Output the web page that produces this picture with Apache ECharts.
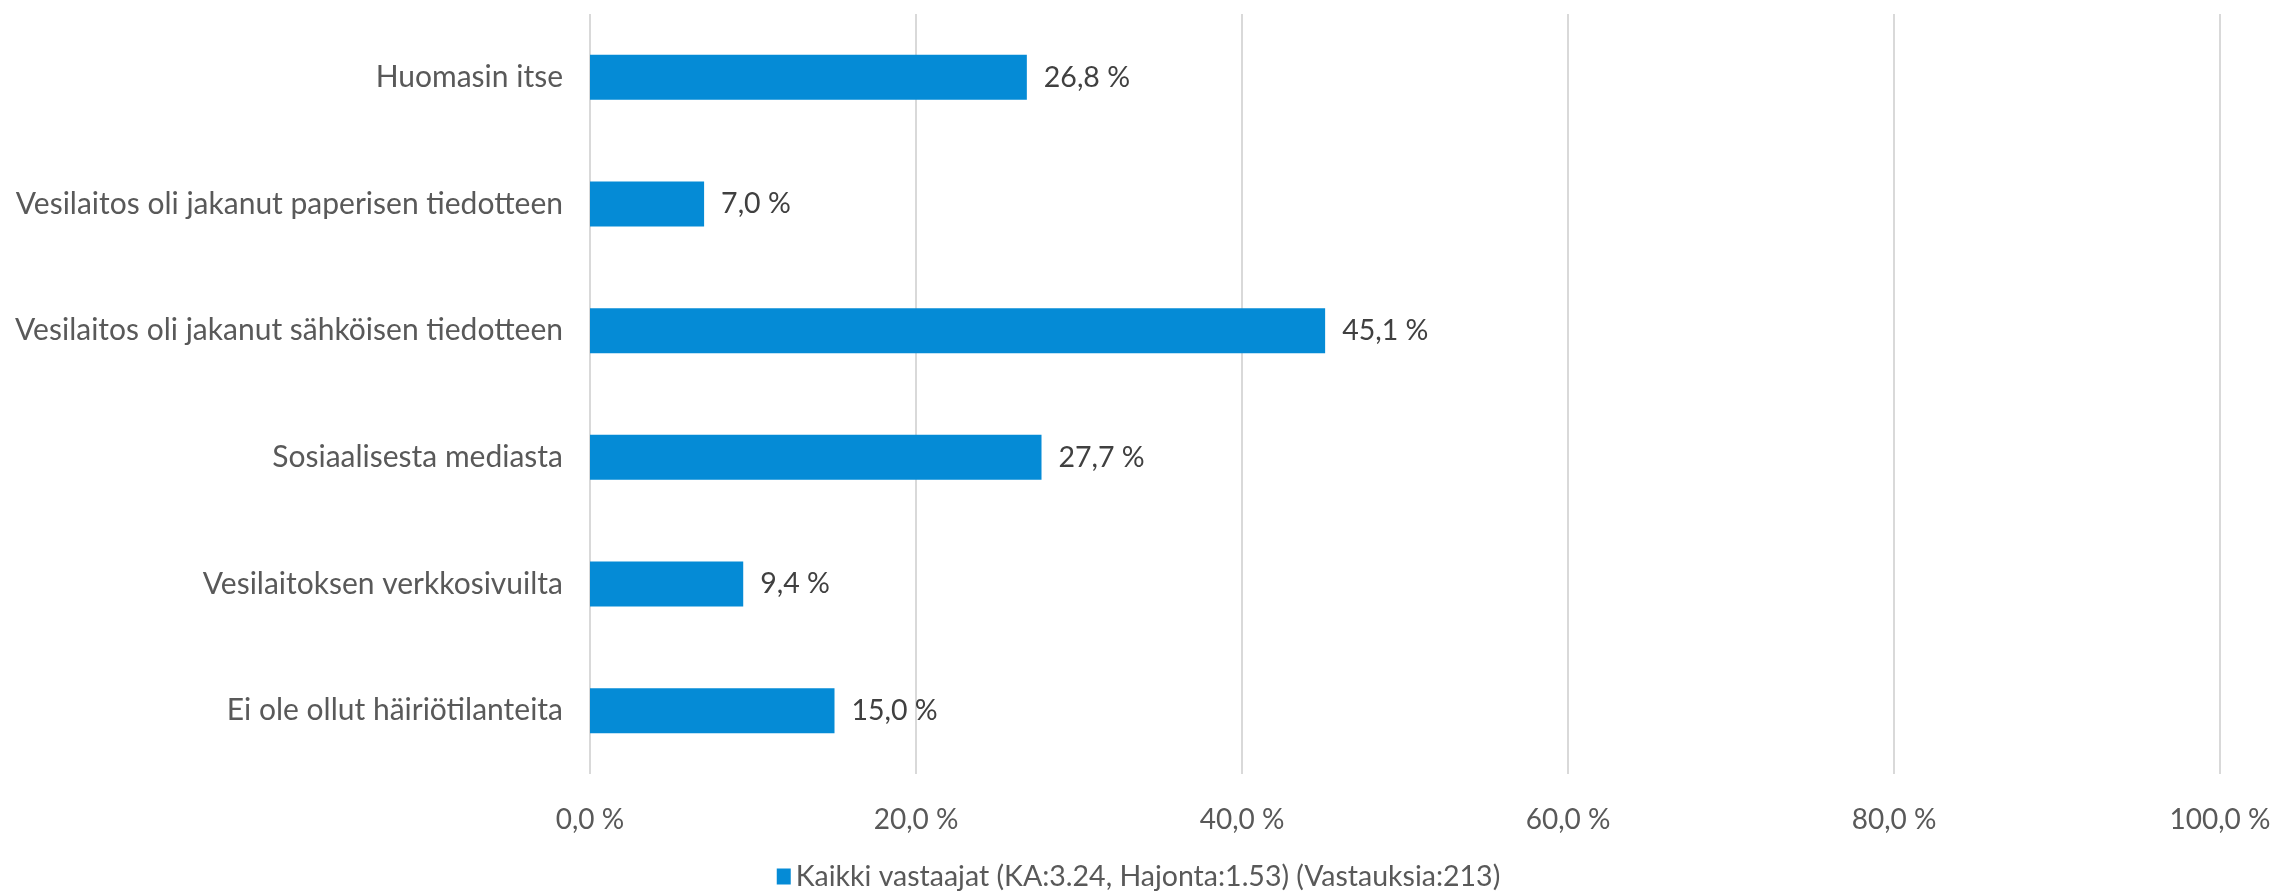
<!DOCTYPE html>
<html>
<head>
<meta charset="utf-8">
<script src="https://cdn.jsdelivr.net/npm/echarts@6/dist/echarts.min.js"></script>
<style>
  html, body { margin: 0; padding: 0; background: #ffffff; }
  #chart { width: 2277px; height: 893px; }
</style>
</head>
<body>
<div id="chart"></div>
<script>
// Answer categories, listed top to bottom
const categories = [
  'Huomasin itse',
  'Vesilaitos oli jakanut paperisen tiedotteen',
  'Vesilaitos oli jakanut sähköisen tiedotteen',
  'Sosiaalisesta mediasta',
  'Vesilaitoksen verkkosivuilta',
  'Ei ole ollut häiriötilanteita'
];
// Share of respondents, percent
const values = [26.8, 7.0, 45.1, 27.7, 9.4, 15.0];
const seriesName = 'Kaikki vastaajat (KA:3.24, Hajonta:1.53) (Vastauksia:213)';
const axisMin = 0;
const axisMax = 100;
const axisStep = 20;

const FONT = 'Lato';
const TEXT = '#595959';
const BLUE = '#058bd6';

const pct = v => v.toFixed(1).replace('.', ',') + ' %';

const chart = echarts.init(document.getElementById('chart'));
chart.setOption({
  animation: false,
  backgroundColor: '#ffffff',
  textStyle: { fontFamily: FONT },
  grid: { left: 590, right: 57, top: 14, bottom: 119, containLabel: false },
  legend: {
    bottom: -3,
    left: 'center',
    itemWidth: 14,
    itemHeight: 16,
    icon: 'rect',
    itemGap: 10,
    textStyle: { fontFamily: FONT, fontSize: 28.5, color: TEXT },
    data: [seriesName]
  },
  xAxis: {
    type: 'value',
    min: axisMin,
    max: axisMax,
    interval: axisStep,
    axisLine: { show: false },
    axisTick: { show: false },
    splitLine: { show: true, lineStyle: { color: '#d9d9d9', width: 2 } },
    axisLabel: {
      margin: 32,
      fontFamily: FONT,
      fontSize: 28,
      color: TEXT,
      formatter: v => pct(v)
    }
  },
  yAxis: {
    type: 'category',
    inverse: true,
    data: categories,
    axisLine: { show: false },
    axisTick: { show: false },
    splitLine: { show: false },
    axisLabel: {
      margin: 27,
      fontFamily: FONT,
      fontSize: 30,
      color: TEXT
    }
  },
  series: [{
    name: seriesName,
    type: 'bar',
    data: values,
    barWidth: 45,
    itemStyle: { color: BLUE },
    label: {
      show: true,
      position: 'right',
      distance: 17,
      fontFamily: FONT,
      fontSize: 28.5,
      color: '#404040',
      formatter: p => pct(p.value)
    }
  }]
});
</script>
</body>
</html>
